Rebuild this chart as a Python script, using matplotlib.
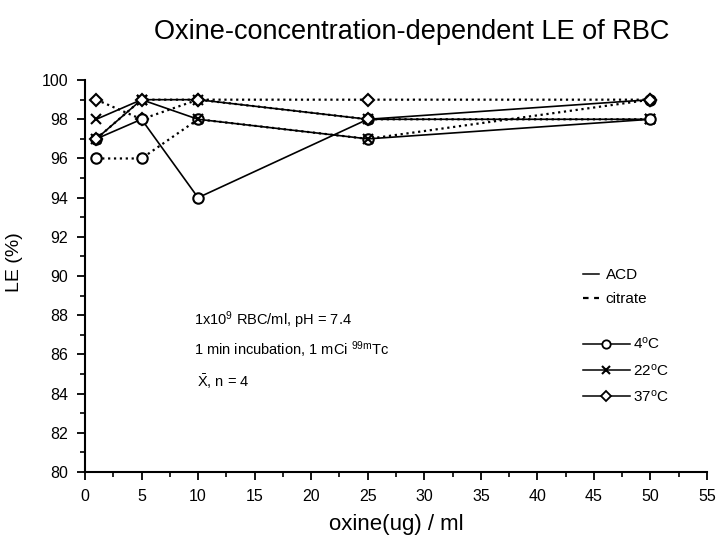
import matplotlib
matplotlib.use("Agg")
import matplotlib.pyplot as plt
from matplotlib.lines import Line2D
from matplotlib.ticker import MultipleLocator

# font setup
plt.rcParams['font.family'] = ['Liberation Sans', 'DejaVu Sans']
plt.rcParams['mathtext.fontset'] = 'custom'
plt.rcParams['mathtext.rm'] = 'Liberation Sans'
plt.rcParams['mathtext.it'] = 'Liberation Sans'

# Data (oxine concentration in ug/ml, labelling efficiency in %)
oxine = [1, 5, 10, 25, 50]
acd_4c = [97, 98, 94, 98, 98]
acd_22c = [98, 99, 98, 97, 98]
acd_37c = [97, 99, 99, 98, 99]
cit_4c = [96, 96, 98, 97, 99]
cit_22c = [97, 99, 99, 98, 98]
cit_37c = [99, 98, 99, 99, 99]

series = [
    (cit_22c, ':', 'x'),
    (cit_4c, ':', 'o'),
    (cit_37c, ':', 'D'),
    (acd_22c, '-', 'x'),
    (acd_4c, '-', 'o'),
    (acd_37c, '-', 'D'),
]

fig = plt.figure(figsize=(7.2, 5.47), dpi=100)
ax = fig.add_axes([0.118, 0.137, 0.864, 0.7166])

for vals, ls, mk in series:
    ms = 6 if mk == 'D' else 7.5
    ax.plot(oxine, vals, linestyle=ls, color='black',
            linewidth=1.2 if ls == '-' else 1.6,
            marker=mk, markersize=ms, markerfacecolor='white',
            markeredgecolor='black', markeredgewidth=1.5, clip_on=False)

ax.set_xlim(0, 55)
ax.set_ylim(80, 100)
ax.xaxis.set_major_locator(MultipleLocator(5))
ax.xaxis.set_minor_locator(MultipleLocator(2.5))
ax.yaxis.set_major_locator(MultipleLocator(2))
ax.yaxis.set_minor_locator(MultipleLocator(1))
ax.tick_params(which='major', direction='out', length=6, width=1.3,
               labelsize=11.5, pad=6)
ax.tick_params(which='minor', direction='out', length=3.5, width=1.2)
ax.spines['top'].set_visible(False)
ax.spines['right'].set_visible(False)
ax.spines['left'].set_linewidth(1.5)
ax.spines['bottom'].set_linewidth(1.5)

ax.set_xlabel('oxine(ug) / ml', fontsize=16)
ax.xaxis.set_label_coords(0.5, -0.107)
ax.set_ylabel('LE (%)', fontsize=14)
ax.yaxis.set_label_coords(-0.10, 0.536)
fig.text(0.572, 0.941, 'Oxine-concentration-dependent LE of RBC',
         fontsize=19.5, ha='center', va='center')

# annotation text
ax.text(0.175, 0.388, r'1x10$^{9}$ RBC/ml, pH = 7.4', transform=ax.transAxes,
        fontsize=10.5, va='center', ha='left')
ax.text(0.175, 0.311, r'1 min incubation, 1 mCi $^{99m}$Tc', transform=ax.transAxes,
        fontsize=10.5, va='center', ha='left')
ax.text(0.18, 0.230, r'$\bar{\mathrm{X}}$, n = 4', transform=ax.transAxes,
        fontsize=10.5, va='center', ha='left')

# legends
style_handles = [Line2D([], [], color='black', linestyle='-', linewidth=1.1),
                 Line2D([], [], color='black', linestyle=(0, (2.5, 2.5)), linewidth=1.6)]
leg1 = ax.legend(style_handles, ['ACD', 'citrate'], loc='upper left',
                 bbox_to_anchor=(0.80, 0.52), frameon=False, fontsize=11,
                 handlelength=1.05, handletextpad=0.45, labelspacing=0.66,
                 borderpad=0, borderaxespad=0)
ax.add_artist(leg1)

temp_handles = [
    Line2D([], [], color='black', linewidth=1.1, marker='o', markersize=6,
           markerfacecolor='white', markeredgewidth=1.3),
    Line2D([], [], color='black', linewidth=1.1, marker='x', markersize=6,
           markeredgewidth=1.5),
    Line2D([], [], color='black', linewidth=1.1, marker='D', markersize=5,
           markerfacecolor='white', markeredgewidth=1.3),
]
ax.legend(temp_handles, [r'4$^{\rm o}$C', r'22$^{\rm o}$C', r'37$^{\rm o}$C'],
          loc='upper left', bbox_to_anchor=(0.80, 0.347), frameon=False,
          fontsize=11, handlelength=3.1, handletextpad=0.2, labelspacing=0.66,
          borderpad=0, borderaxespad=0)

fig.savefig('out.png', dpi=100)
